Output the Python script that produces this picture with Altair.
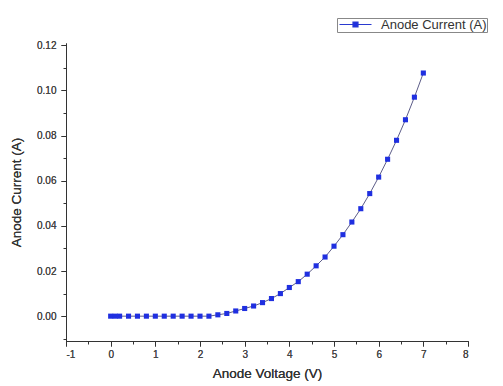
import altair as alt
import pandas as pd

voltage = [0.0, 0.1, 0.2, 0.4, 0.6, 0.8, 1.0, 1.2, 1.4, 1.6, 1.8, 2.0, 2.2,
           2.4, 2.6, 2.8, 3.0, 3.2, 3.4, 3.6, 3.8, 4.0, 4.2, 4.4, 4.6, 4.8,
           5.0, 5.2, 5.4, 5.6, 5.8, 6.0, 6.2, 6.4, 6.6, 6.8, 7.0]
current = [0.0, 0.0, 0.0, 0.0, 0.0, 0.0, 0.0, 0.0, 0.0, 0.0, 0.0, 0.0, 0.0,
           0.0006, 0.0012, 0.0023, 0.0034, 0.0045, 0.0060, 0.0078, 0.0100, 0.0127, 0.0153,
           0.0186, 0.0223, 0.0262, 0.0310, 0.0361, 0.0417, 0.0476, 0.0543,
           0.0616, 0.0695, 0.0779, 0.0870, 0.0970, 0.1077]
series_name = "Anode Current (A)"

x_major = [-1, 0, 1, 2, 3, 4, 5, 6, 7, 8]
x_minor = [-0.5, 0.5, 1.5, 2.5, 3.5, 4.5, 5.5, 6.5, 7.5]
y_major = [0.0, 0.02, 0.04, 0.06, 0.08, 0.10, 0.12]
y_minor = [-0.01, 0.01, 0.03, 0.05, 0.07, 0.09, 0.11]

df = pd.DataFrame({"V": voltage, "I": current, "s": [series_name] * len(voltage)})

FONT = "Liberation Sans"
xscale = alt.Scale(domain=[-1, 8], nice=False, zero=False)
yscale = alt.Scale(domain=[-0.011, 0.121], nice=False, zero=False)

x_axis = alt.Axis(values=x_major, title="Anode Voltage (V)", format="d", grid=False,
                  labelExpr="replace(datum.label, '\u2212', '-')",
                  orient="bottom", tickSize=5, labelPadding=3, titlePadding=7,
                  domainColor="#333333", tickColor="#333333", labelColor="#444444",
                  labelFontSize=10, titleFontSize=13.5, titleFontWeight="normal",
                  titleColor="#333333", labelFont=FONT, titleFont=FONT)
y_axis = alt.Axis(values=y_major, title="Anode Current (A)", format=".2f", grid=False,
                  orient="left", tickSize=5, labelPadding=5, titlePadding=13,
                  domainColor="#333333", tickColor="#333333", labelColor="#444444",
                  labelFontSize=10, titleFontSize=13.5, titleFontWeight="normal",
                  titleColor="#333333", labelFont=FONT, titleFont=FONT)

line = alt.Chart(df).mark_line(color="#4a4a7a", strokeWidth=0.9).encode(
    x=alt.X("V:Q", scale=xscale, axis=x_axis),
    y=alt.Y("I:Q", scale=yscale, axis=y_axis),
)

legend_symbol = "M-3.2,0H-0.5M0.5,0H3.2M-0.5,-0.5H0.5V0.5H-0.5Z"

pts = alt.Chart(df).mark_point(shape="square", filled=True, size=26, opacity=1).encode(
    x=alt.X("V:Q", scale=xscale, axis=x_axis),
    y=alt.Y("I:Q", scale=yscale, axis=y_axis),
    color=alt.Color("s:N", scale=alt.Scale(domain=[series_name], range=["#1f2fe0"]),
                    legend=alt.Legend(title=None, orient="none", legendX=271, legendY=-25,
                                      symbolType=legend_symbol, symbolSize=100,
                                      symbolStrokeWidth=1.2, symbolStrokeColor="#2a3ad0",
                                      labelFont=FONT, labelFontSize=13, labelColor="#333333",
                                      strokeColor="#888888", padding=0, labelOffset=19,
                                      symbolOffset=12)),
)

n = max(len(x_minor), len(y_minor))
minor_df = pd.DataFrame({"mx": (x_minor * 2)[:n], "my": (y_minor * 2)[:n]})
minor = alt.Chart(minor_df).mark_point(opacity=0).encode(
    x=alt.X("mx:Q", scale=xscale,
            axis=alt.Axis(values=x_minor, labels=False, title=None, grid=False, domain=False,
                          orient="bottom", tickSize=3, tickColor="#333333")),
    y=alt.Y("my:Q", scale=yscale,
            axis=alt.Axis(values=y_minor, labels=False, title=None, grid=False, domain=False,
                          orient="left", tickSize=3, tickColor="#333333")),
)

chart = alt.layer(line, pts, minor).resolve_axis(x="independent", y="independent").properties(
    width=402, height=298,
    padding={"left": 66, "top": 43, "right": 35, "bottom": 45},
    autosize=alt.AutoSizeParams(type="none"),
    background="white",
).configure_view(stroke=None)

chart.save("out.html", embed_options={"renderer": "svg", "actions": False})
